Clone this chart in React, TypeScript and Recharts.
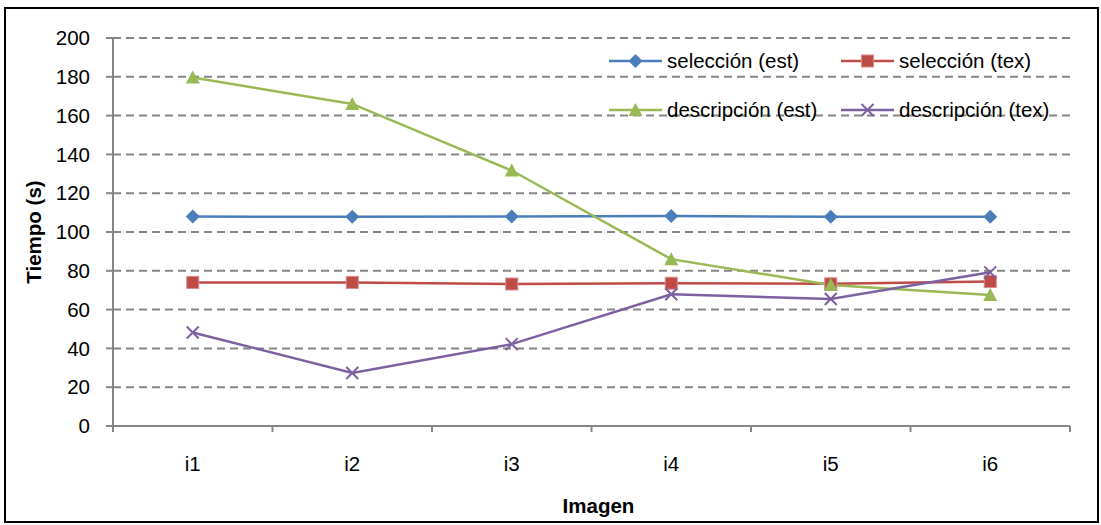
import React from "react";
import {
  CartesianGrid,
  Line,
  LineChart,
  XAxis,
  YAxis,
} from "recharts";

const categories = ["i1", "i2", "i3", "i4", "i5", "i6"];
const seleccionEst = [108, 107.8, 108, 108.3, 107.8, 107.9];
const seleccionTex = [74, 74, 73.2, 73.6, 73.3, 74.5];
const descripcionEst = [179.6, 166, 131.7, 86, 72.7, 67.5];
const descripcionTex = [48.2, 27.3, 42.2, 67.9, 65.5, 79.2];
const yTicks = [0, 20, 40, 60, 80, 100, 120, 140, 160, 180, 200];
// category boundaries (integers) and centres (halves) on a 0..6 numeric axis
const xTicks = [0, 0.5, 1, 1.5, 2, 2.5, 3, 3.5, 4, 4.5, 5, 5.5, 6];

const FONT = "Arial, 'Liberation Sans', sans-serif";
const FS = 20.5;
const AXIS = "#868686";

type Shape = "diamond" | "square" | "triangle" | "cross";

const series: { key: string; name: string; color: string; shape: Shape }[] = [
  { key: "selEst", name: "selección (est)", color: "#4A7EBB", shape: "diamond" },
  { key: "selTex", name: "selección (tex)", color: "#BE4B48", shape: "square" },
  { key: "descEst", name: "descripción (est)", color: "#98B954", shape: "triangle" },
  { key: "descTex", name: "descripción (tex)", color: "#7D60A0", shape: "cross" },
];

const data = categories.map((name, i) => ({
  name,
  x: i + 0.5,
  selEst: seleccionEst[i],
  selTex: seleccionTex[i],
  descEst: descripcionEst[i],
  descTex: descripcionTex[i],
}));

function Marker({ shape, color, cx, cy }: { shape: Shape; color: string; cx: number; cy: number }) {
  if (cx == null || cy == null) return null;
  if (shape === "diamond") {
    const r = 7;
    return (
      <polygon
        points={`${cx},${cy - r} ${cx + r},${cy} ${cx},${cy + r} ${cx - r},${cy}`}
        fill={color}
      />
    );
  }
  if (shape === "square") {
    return (
      <rect x={cx - 6} y={cy - 6} width={12} height={12} fill={color} stroke="#D88A88" strokeWidth={1} />
    );
  }
  if (shape === "triangle") {
    return (
      <polygon
        points={`${cx},${cy - 7} ${cx + 7},${cy + 6} ${cx - 7},${cy + 6}`}
        fill={color}
      />
    );
  }
  return (
    <g stroke={color} strokeWidth={2}>
      <line x1={cx - 6} y1={cy - 6} x2={cx + 6} y2={cy + 6} />
      <line x1={cx - 6} y1={cy + 6} x2={cx + 6} y2={cy - 6} />
    </g>
  );
}

function XTick(props: any) {
  const { x, y, payload } = props;
  const v = payload.value as number;
  if (Number.isInteger(v)) {
    return <line x1={x} y1={y} x2={x} y2={y + 6} stroke={AXIS} strokeWidth={2} />;
  }
  return (
    <text x={x} y={y + 37} textAnchor="middle" dominantBaseline="central" fontSize={FS} fontFamily={FONT} fill="#000">
      {categories[v - 0.5]}
    </text>
  );
}

function LegendBox() {
  return (
    <div
      style={{
        position: "absolute",
        left: 609,
        top: 44,
        display: "grid",
        gridTemplateColumns: "232px 232px",
        gridAutoRows: "49px",
        fontFamily: FONT,
        fontSize: FS,
        color: "#000",
      }}
    >
      {series.map((s) => (
        <div key={s.key} style={{ display: "flex", alignItems: "center", height: 34 }}>
          <svg width={53} height={20} style={{ marginRight: 5, flexShrink: 0 }}>
            <line x1={0} y1={10} x2={53} y2={10} stroke={s.color} strokeWidth={2.5} />
            <Marker shape={s.shape} color={s.color} cx={26.5} cy={10} />
          </svg>
          <span style={{ whiteSpace: "nowrap" }}>{s.name}</span>
        </div>
      ))}
    </div>
  );
}

export default function App() {
  return (
    <div style={{ position: "absolute", left: 0, top: 0, width: 1101, height: 525, background: "#fff" }}>
      <div
        style={{
          position: "absolute",
          left: 4,
          top: 7,
          width: 1091,
          height: 512,
          border: "2px solid #000",
        }}
      />
      <div style={{ position: "absolute", left: 0, top: 0 }}>
        <LineChart
          width={1101}
          height={525}
          data={data}
          margin={{ top: 38, right: 31, left: 0, bottom: 39 }}
        >
          <CartesianGrid
            vertical={false}
            stroke={AXIS}
            strokeWidth={2}
            strokeDasharray="8 5"
          />
          <XAxis
            type="number"
            dataKey="x"
            domain={[0, 6]}
            ticks={xTicks}
            interval={0}
            height={60}
            tickLine={false}
            tickSize={0}
            tickMargin={0}
            axisLine={{ stroke: AXIS, strokeWidth: 2 }}
            tick={<XTick />}
            label={{
              content: (p: any) => (
                <text
                  x={p.viewBox.x + p.viewBox.width / 2 + 7}
                  y={p.viewBox.y + 79}
                  textAnchor="middle"
                  dominantBaseline="central"
                  fontSize={FS}
                  fontWeight="bold"
                  fontFamily={FONT}
                  fill="#000"
                >
                  Imagen
                </text>
              ),
            }}
          />
          <YAxis
            width={113}
            domain={[0, 200]}
            ticks={yTicks}
            interval={0}
            tickSize={7}
            tickMargin={16}
            tickLine={{ stroke: AXIS, strokeWidth: 2 }}
            axisLine={{ stroke: AXIS, strokeWidth: 2 }}
            tick={{ fontSize: FS, fontFamily: FONT, fill: "#000" }}
            label={{
              content: (p: any) => {
                const cx = p.viewBox.x + 33;
                const cy = p.viewBox.y + p.viewBox.height / 2;
                return (
                  <text
                    x={cx}
                    y={cy}
                    transform={`rotate(-90 ${cx} ${cy})`}
                    textAnchor="middle"
                    dominantBaseline="central"
                    fontSize={FS}
                    fontWeight="bold"
                    fontFamily={FONT}
                    fill="#000"
                  >
                    Tiempo (s)
                  </text>
                );
              },
            }}
          />
          {series.map((s) => (
            <Line
              key={s.key}
              type="linear"
              dataKey={s.key}
              name={s.name}
              stroke={s.color}
              strokeWidth={2.5}
              isAnimationActive={false}
              dot={(p: any) => (
                <Marker key={`${s.key}-${p.index}`} shape={s.shape} color={s.color} cx={p.cx} cy={p.cy} />
              )}
              activeDot={false}
            />
          ))}
        </LineChart>
      </div>
      <LegendBox />
    </div>
  );
}
